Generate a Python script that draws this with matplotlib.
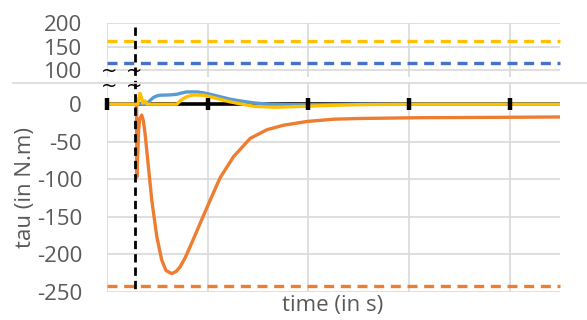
import matplotlib
matplotlib.use('Agg')
import matplotlib.pyplot as plt
from matplotlib.transforms import blended_transform_factory
from matplotlib.lines import Line2D

plt.rcParams['font.family'] = ['Open Sans', 'DejaVu Sans']
plt.rcParams['axes.unicode_minus'] = False

# ---- data (time in arbitrary units, gridlines every 10) ----
orange_t = [0, 2.94, 2.96, 3.04, 3.14, 3.24, 3.45, 3.61, 3.78, 4.11, 4.45, 4.95, 5.44,
            5.87, 6.44, 6.87, 7.26, 7.76, 8.26, 9.25, 10.25, 11.24, 12.57, 14.23,
            15.89, 17.54, 19.87, 22.52, 25.17, 31.1, 39.1, 45]
orange_v = [0, 0, -97, -70, -35, -20, -14.5, -22, -39, -83, -128, -177, -208,
            -222, -226, -223, -217, -205, -190, -159, -128, -98, -70, -45.5,
            -34, -28, -23, -20, -19, -18, -17.5, -17]

blue_t = [0, 2.9, 3.05, 3.2, 3.68, 3.95, 4.28, 4.61, 4.94, 5.27, 6.27, 6.94, 7.43, 7.93,
          8.93, 9.58, 10.25, 11.24, 12.24, 13.23, 14.73, 16.22, 18.2, 21.2, 25.2, 45]
blue_v = [0, 0, 3, 0, 0, 0.5, 5, 9, 11, 12, 12.4, 13.3, 15, 16.4,
          16.4, 15.2, 13.3, 10, 6.7, 4.4, 1.5, 0, -0.6, -0.5, 0, 0]

yellow_t = [0, 3.03, 3.18, 3.28, 3.41, 3.55, 3.68, 3.78, 3.95, 6.94, 7.26, 7.59, 7.93,
            8.59, 9.58, 10.25, 10.92, 12.24, 13.23, 14.73, 16.72, 19.2, 22.19, 25.17,
            31.1, 45]
yellow_v = [0, 0, 9, 14.6, 9, 1.5, 2.5, 4.4, 0, 0, 4.4, 7.5, 10,
            12.4, 12, 10, 7.6, 3.1, 0.5, -3, -4, -3, -1.5, -0.5,
            0, 0]

black_t = [0, 10, 20, 30, 40, 45]
black_v = [0, 0, 0, 0, 0, 0]

limit_orange = -243
limit_yellow = 163
limit_blue = 116
event_t = 2.78

top_ticks = [100, 150, 200]
bottom_ticks = [-250, -200, -150, -100, -50, 0]
x_grid = [0, 10, 20, 30, 40]

C_OR = '#ED7D31'
C_BL = '#5B9BD5'
C_YE = '#FFC000'
C_DB = '#4472C4'
GRID = '#d9d9d9'
TXT = '#595959'

W, H = 587, 320
fig = plt.figure(figsize=(W / 100, H / 100), dpi=100)

ax_top = fig.add_axes([107 / W, 1 - 77 / H, 453 / W, 54 / H])
ax_bot = fig.add_axes([107 / W, 1 - 292 / H, 453 / W, 209 / H])

for ax in (ax_top, ax_bot):
    ax.set_xlim(0, 45)
    ax.set_xticks(x_grid)
    ax.set_xticklabels([])
    ax.tick_params(axis='x', length=0)
    ax.tick_params(axis='y', length=0, pad=18, labelsize=16, labelcolor=TXT)
    ax.grid(True, color=GRID, linewidth=1.2)
    ax.set_axisbelow(True)
    for s in ax.spines.values():
        s.set_visible(False)
    ax.patch.set_alpha(0)

ax_top.set_ylim(85, 200.5)
ax_top.set_yticks(top_ticks)
ax_top.set_yticklabels([str(v) for v in top_ticks])
ax_bot.set_ylim(-250.5, 28.3)
ax_bot.set_yticks(bottom_ticks)
ax_bot.set_yticklabels([str(v) for v in bottom_ticks])

# limit lines
ax_top.axhline(limit_yellow, color=C_YE, lw=2.4, ls=(0, (3, 2)), clip_on=False)
ax_top.axhline(limit_blue, color=C_DB, lw=2.4, ls=(0, (3, 2)), clip_on=False)
ax_bot.axhline(limit_orange, color=C_OR, lw=2.4, ls=(0, (3, 2)), clip_on=False)

# series
ax_bot.plot(black_t, black_v, color='black', lw=2.6, zorder=2, solid_capstyle='butt')
ax_bot.plot(orange_t, orange_v, color=C_OR, lw=2.4, zorder=3, solid_joinstyle='round')
ax_bot.plot(blue_t, blue_v, color=C_BL, lw=2.4, zorder=4, solid_joinstyle='round')
ax_bot.plot(yellow_t, yellow_v, color=C_YE, lw=2.4, zorder=5, solid_joinstyle='round')
ax_bot.plot(black_t, black_v, ls='none', marker='|', markersize=9, mew=3.2,
            color='black', markevery=[0, 1, 2, 3, 4], zorder=6, clip_on=False)

# event dashed vertical line across both panels
tr = blended_transform_factory(ax_bot.transData, fig.transFigure)
ax_bot.add_line(Line2D([event_t, event_t], [1 - 27 / H, 1 - 293 / H], transform=tr,
                       color='black', lw=2.0, ls=(0, (3, 1.8)), clip_on=False, zorder=10))

# separator line
fig.add_artist(Line2D([13 / W, 1.0], [1 - 83 / H, 1 - 83 / H], color=GRID, lw=1.2))

# break marks (one two-line text per break position)
for xx in (109, 134):
    fig.text(xx / W, 1 - 79 / H, '~\n~', ha='center', va='center', fontsize=14,
             linespacing=0.72, family='DejaVu Sans', color='black', zorder=11)

fig.text(26 / W, 1 - 188 / H, 'tau (in N.m)', rotation=90, ha='center', va='center',
         fontsize=16, color=TXT)
fig.text(333 / W, 1 - 305 / H, 'time (in s)', ha='center', va='center',
         fontsize=16, color=TXT)

fig.savefig('out.png', dpi=100)
